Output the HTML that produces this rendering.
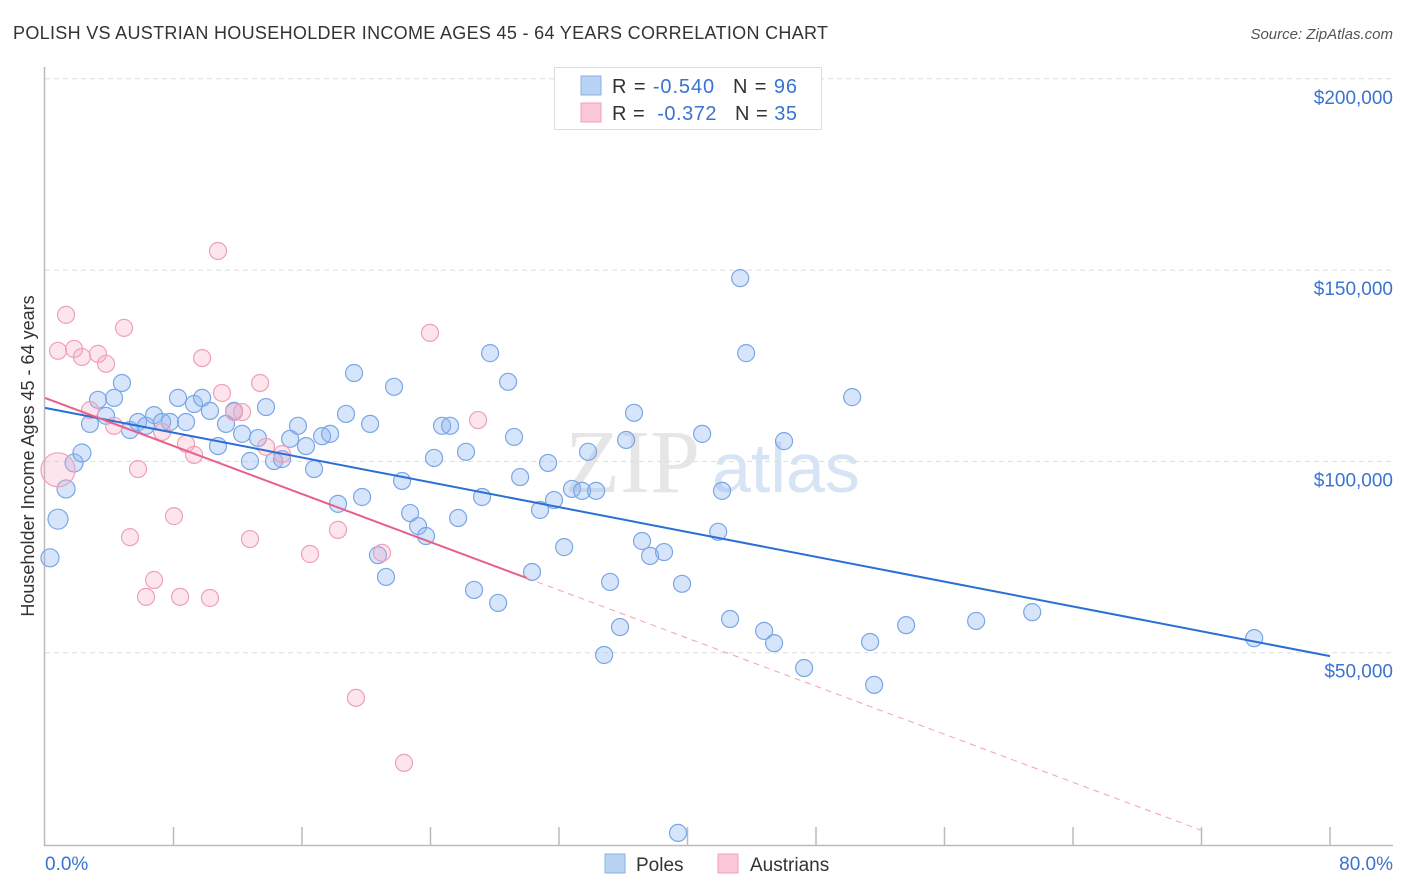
<!DOCTYPE html>
<html><head><meta charset="utf-8"><style>
body{margin:0;background:#fff;font-family:"Liberation Sans",sans-serif;}
svg{display:block}
</style></head><body>
<svg id="chart" width="1406" height="892">
<text x="13" y="39" font-size="18" fill="#333" textLength="815">POLISH VS AUSTRIAN HOUSEHOLDER INCOME AGES 45 - 64 YEARS CORRELATION CHART</text>
<text x="1393" y="39" font-size="15" fill="#555" font-style="italic" text-anchor="end">Source: ZipAtlas.com</text>
<text x="34" y="456" font-size="18" fill="#333" text-anchor="middle" transform="rotate(-90 34 456)">Householder Income Ages 45 - 64 years</text>
<text x="700" y="492" font-size="90" fill="#e6e6e6" text-anchor="end" font-family="Liberation Serif,serif">ZIP</text>
<text x="712" y="492" font-size="70" fill="#d6e4f5">atlas</text>
<g id="grid"></g>
<g id="axes"></g>
<g id="points"></g>
<g id="trends"></g>
<g>
<rect x="554.5" y="67.5" width="267" height="62" fill="#fff" stroke="#ddd"/>
<rect x="581" y="76" width="20" height="19" fill="#b9d3f5" stroke="#8ab0e8"/>
<rect x="581" y="103" width="20" height="19" fill="#fbc8d8" stroke="#f0a0b8"/>
<text x="612" y="93" font-size="20" fill="#333" textLength="185">R = <tspan fill="#3a73d0">-0.540</tspan><tspan dx="18">N = </tspan><tspan fill="#3a73d0">96</tspan></text>
<text x="612" y="120" font-size="20" fill="#333" textLength="185">R = <tspan fill="#3a73d0" dx="6">-0.372</tspan><tspan dx="18">N = </tspan><tspan fill="#3a73d0">35</tspan></text>
</g>
<g>
<rect x="605" y="854" width="20" height="19" fill="#b9d3f5" stroke="#8ab0e8"/>
<text x="636" y="871" font-size="19" fill="#333">Poles</text>
<rect x="718" y="854" width="20" height="19" fill="#fbc8d8" stroke="#f0a0b8"/>
<text x="750" y="871" font-size="19" fill="#333">Austrians</text>
</g>
</svg>
<script>
const yTicks=[50,100,150,200];
const yTickLabels=["$50,000","$100,000","$150,000","$200,000"];
const xTickLabels=["0.0%","80.0%"];
const polesX=[0.31,0.81,1.31,1.81,2.30,2.80,3.30,3.80,4.30,4.79,5.29,5.79,6.29,6.79,7.29,7.78,8.28,8.78,9.28,9.78,10.27,10.77,11.27,11.77,12.27,12.76,13.26,13.76,14.26,14.76,15.26,15.75,16.25,16.75,17.25,17.75,18.24,18.74,19.24,19.74,20.24,20.73,21.23,21.73,22.23,22.73,23.23,23.72,24.22,24.72,25.22,25.72,26.21,26.71,27.21,27.71,28.21,28.83,29.20,29.58,30.32,30.82,31.32,31.69,32.32,32.81,33.44,33.81,34.31,35.18,35.80,34.81,36.18,36.67,37.17,37.67,38.54,39.66,40.91,41.91,42.15,42.65,43.28,43.65,44.77,45.39,46.01,47.26,50.25,51.37,51.62,53.61,57.97,61.46,75.28,39.41];
const polesY=[74.8,84.9,92.8,99.6,102.2,109.8,116.1,111.9,116.6,120.5,108.2,110.3,109.3,112.1,110.3,110.3,116.6,110.3,115.0,116.6,113.2,104.0,109.8,113.2,107.2,100.1,106.1,114.2,100.1,100.6,105.9,109.3,104.0,98.0,106.6,107.2,88.9,112.4,123.1,90.7,109.8,75.5,69.8,119.5,94.9,86.5,83.1,80.5,100.9,109.3,109.3,85.2,102.5,66.4,90.7,128.3,63.0,120.8,106.4,95.9,71.1,87.3,99.6,89.9,77.6,92.8,92.3,102.5,92.3,68.5,56.7,49.4,105.6,112.7,79.2,75.3,76.3,68.0,107.2,81.6,92.3,58.8,147.9,128.3,55.7,52.5,105.3,46.0,116.8,52.8,41.6,57.2,58.3,60.6,53.8,2.9];
const ausX=[0.81,1.31,0.81,1.81,2.30,2.80,3.30,3.80,4.30,4.92,5.29,5.79,6.29,6.79,7.29,8.03,8.41,8.78,9.28,9.78,10.27,10.77,11.02,11.77,12.27,12.76,13.39,13.76,14.76,16.50,18.24,19.36,20.98,22.35,23.97,26.96];
const ausY=[97.8,138.3,128.9,129.4,127.3,113.4,128.1,125.5,109.3,134.9,80.2,98.0,64.6,69.0,107.7,85.7,64.6,104.6,101.7,127.0,64.3,155.0,117.9,112.9,112.9,79.7,120.5,103.8,101.9,75.8,82.1,38.2,76.1,21.2,133.6,110.8];
const polesTrend=[114.0,49.1];
const ausTrend=[116.6,-1.57];
const ausSolidEnd=30;
const ausDashEnd=72;

const NS="http://www.w3.org/2000/svg";
const X=v=>45+v*(1330-45)/80;
const Y=v=>844-v*191.3/50;
function mk(tag,attrs,parent){const e=document.createElementNS(NS,tag);for(const k in attrs)e.setAttribute(k,attrs[k]);document.getElementById(parent).appendChild(e);return e;}

yTicks.forEach((t,i)=>{
  const g=mk('line',{x1:45,x2:1393,y1:Y(t),y2:Y(t),stroke:'#ddd','stroke-dasharray':'5,4'},'grid');
  
  
  const l=mk('text',{x:1393,y:Y(t)+25,'font-size':19,fill:'#3a73d0','text-anchor':'end'},'grid');
  l.textContent=yTickLabels[i];
  
  
});
const ax=mk('path',{d:'M44.5,67 V845.5 H1393',fill:'none',stroke:'#bbb','stroke-width':1.5},'axes');


for(let p=8;p<=80;p+=8){
  const t=mk('line',{x1:X(p),x2:X(p),y1:827,y2:845,stroke:'#bbb','stroke-width':1.5},'axes');
  
  
}
const xl0=mk('text',{x:45,y:870,'font-size':19,fill:'#3a73d0'},'axes');
xl0.textContent=xTickLabels[0];


const xl1=mk('text',{x:1393,y:870,'font-size':19,fill:'#3a73d0','text-anchor':'end'},'axes');
xl1.textContent=xTickLabels[1];



polesX.forEach((x,i)=>{
  const c=mk('circle',{cx:X(x),cy:Y(polesY[i]),r:i<5?(i==1?10:9):8.5,fill:'rgba(140,180,240,0.35)',stroke:'#7aa6e6','stroke-width':1.2},'points');
  
  
});
ausX.forEach((x,i)=>{
  const c=mk('circle',{cx:X(x),cy:Y(ausY[i]),r:i==0?17:8.5,fill:'rgba(245,170,195,0.3)',stroke:'#f0a0b8','stroke-width':1.2},'points');
  
  
});
const bt=mk('line',{x1:X(0),y1:Y(polesTrend[0]),x2:X(80),y2:Y(polesTrend[1]),stroke:'#2a6fd6','stroke-width':2},'trends');


const pa=v=>ausTrend[0]+ausTrend[1]*v;
const pt=mk('line',{x1:X(0),y1:Y(pa(0)),x2:X(ausSolidEnd),y2:Y(pa(ausSolidEnd)),stroke:'#e8608a','stroke-width':2},'trends');


const pd=mk('line',{x1:X(ausSolidEnd),y1:Y(pa(ausSolidEnd)),x2:X(ausDashEnd),y2:Y(pa(ausDashEnd)),stroke:'#f0a0b8','stroke-width':1,'stroke-dasharray':'6,5'},'trends');


</script>
</body></html>
